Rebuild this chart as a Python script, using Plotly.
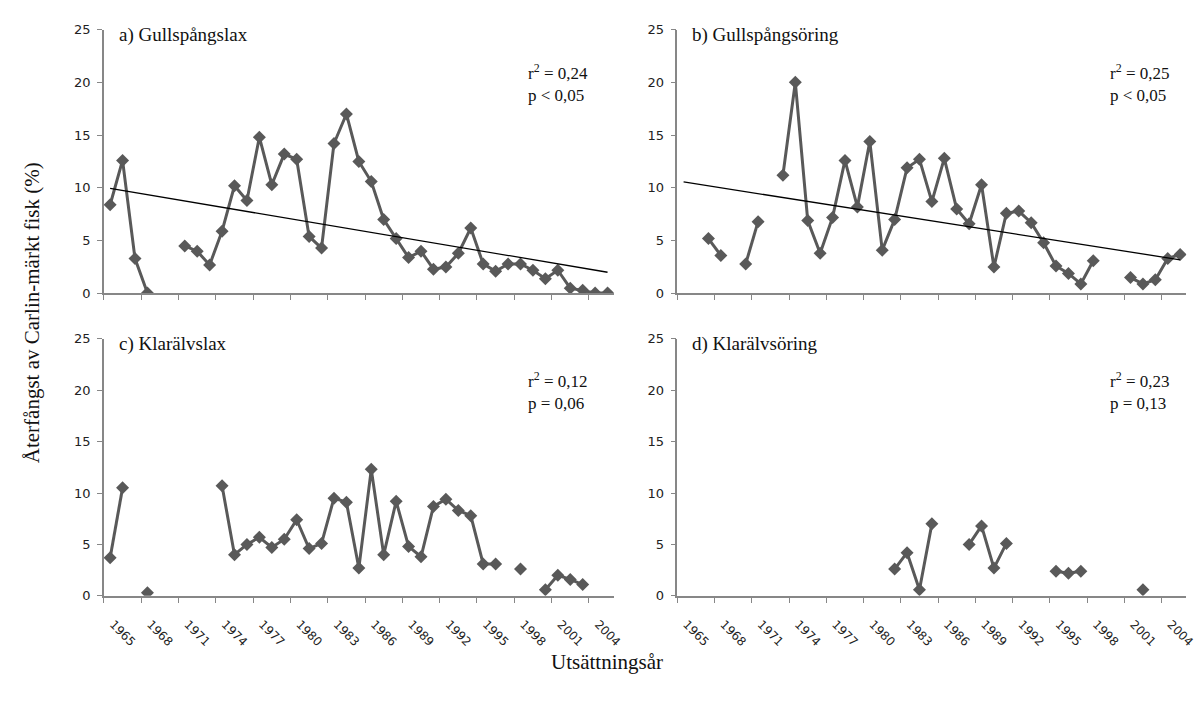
import numpy as np
import plotly.graph_objects as go

years = list(range(1965, 2006))
N = None

# a) Gullspångslax
gull_lax = [8.4, 12.6, 3.3, 0.05, N, N, 4.5, 4.0, 2.7, 5.9, 10.2, 8.8, 14.8, 10.3, 13.2, 12.7,
            5.4, 4.3, 14.2, 17.0, 12.5, 10.6, 7.0, 5.2, 3.4, 4.0, 2.3, 2.5, 3.8, 6.2, 2.8,
            2.1, 2.8, 2.8, 2.2, 1.4, 2.2, 0.5, 0.3, 0.05, 0.05]
# b) Gullspångsöring
gull_oring = [N, N, 5.2, 3.6, N, 2.8, 6.8, N, 11.2, 20.0, 6.9, 3.8, 7.2, 12.6, 8.2, 14.4,
              4.1, 7.0, 11.9, 12.7, 8.7, 12.8, 8.0, 6.6, 10.3, 2.5, 7.6, 7.8, 6.7, 4.8, 2.6,
              1.9, 0.9, 3.1, N, N, 1.5, 0.9, 1.3, 3.3, 3.7]
# c) Klarälvslax
klar_lax = [3.7, 10.5, N, 0.3, N, N, N, N, N, 10.7, 4.0, 5.0, 5.7, 4.7, 5.5, 7.4,
            4.6, 5.1, 9.5, 9.1, 2.7, 12.3, 4.0, 9.2, 4.8, 3.8, 8.7, 9.4, 8.3, 7.8, 3.1,
            3.1, N, 2.6, N, 0.6, 2.0, 1.6, 1.1, N, N]
# d) Klarälvsöring
klar_oring = [N, N, N, N, N, N, N, N, N, N, N, N, N, N, N, N,
              N, 2.6, 4.2, 0.6, 7.0, N, N, 5.0, 6.8, 2.7, 5.1, N, N, N, 2.4,
              2.2, 2.4, N, N, N, N, 0.6, N, N, N]

titles = ["a) Gullspångslax", "b) Gullspångsöring", "c) Klarälvslax", "d) Klarälvsöring"]
stats = [("0,24", "< 0,05"), ("0,25", "< 0,05"), ("0,12", "= 0,06"), ("0,23", "= 0,13")]
show_trend = [True, True, False, False]
series = [gull_lax, gull_oring, klar_lax, klar_oring]

tick_years = list(range(1965, 2005, 3))
tick_text = [str(y) for y in tick_years]
boundary_ticks = [y + 0.5 for y in range(1964, 2005, 3)]
y_ticks = [0, 5, 10, 15, 20, 25]

GREY = "#595959"
AXIS = "#878787"
SERIF = "Liberation Serif, Times New Roman, serif"
SANS = "DejaVu Sans, Verdana, sans-serif"

W, H = 1203, 702
xdoms = [[104.7 / W, 618.4 / W], [682.5 / W, 1195.3 / W]]
ydoms = [[1 - 292.7 / H, 1 - 23 / H], [1 - 601.7 / H, 1 - 339 / H]]

fig = go.Figure()
stat_x = [0.828, 0.847, 0.828, 0.847]

for i, vals in enumerate(series):
    row, col = divmod(i, 2)
    n = i + 1
    xa = "x" if n == 1 else f"x{n}"
    ya = "y" if n == 1 else f"y{n}"
    fig.add_trace(go.Scatter(
        x=years, y=vals, xaxis=xa, yaxis=ya, mode="lines+markers",
        line=dict(color=GREY, width=3), connectgaps=False,
        marker=dict(symbol="diamond", size=10, color=GREY),
        showlegend=False, hoverinfo="x+y"))
    if show_trend[i]:
        xs = np.array([y for y, v in zip(years, vals) if v is not None], dtype=float)
        ys = np.array([v for v in vals if v is not None], dtype=float)
        slope, icept = np.polyfit(xs, ys, 1)
        tx = np.array([years[0], years[-1]], dtype=float)
        fig.add_trace(go.Scatter(
            x=tx, y=slope * tx + icept, xaxis=xa, yaxis=ya, mode="lines",
            line=dict(color="black", width=1.3), showlegend=False, hoverinfo="skip"))

    key_x = "xaxis" if n == 1 else f"xaxis{n}"
    key_y = "yaxis" if n == 1 else f"yaxis{n}"
    fig.layout[key_x] = dict(
        domain=xdoms[col], anchor=ya, range=[1964.5, 2005.5],
        tickmode="array", tickvals=tick_years, ticktext=tick_text,
        showticklabels=(row == 1), tickangle=45, ticks="",
        ticklabelstandoff=15, ticklabelshift=3,
        tickfont=dict(family=SANS, size=12, color="#222"),
        showline=True, linecolor=AXIS, linewidth=1.5, showgrid=False, zeroline=False,
        minor=dict(tickmode="array", tickvals=boundary_ticks, ticks="outside",
                   ticklen=5, tickcolor=AXIS, tickwidth=1.2, showgrid=False))
    fig.layout[key_y] = dict(
        domain=ydoms[row], anchor=xa, range=[0, 25],
        tickmode="array", tickvals=y_ticks, ticks="outside", ticklen=5,
        tickcolor=AXIS, tickwidth=1.2, ticklabelstandoff=4,
        tickfont=dict(family=SANS, size=13, color="#222"),
        showline=True, linecolor=AXIS, linewidth=1.5, showgrid=False, zeroline=False)

    fig.add_annotation(text=titles[i], xref=f"{xa} domain", yref=f"{ya} domain",
                       x=0.025, y=1.03, xanchor="left", yanchor="top", showarrow=False,
                       font=dict(family=SERIF, size=19, color="#111"))
    r2, p = stats[i]
    fig.add_annotation(text=f"r<sup>2</sup> = {r2}",
                       xref=f"{xa} domain", yref=f"{ya} domain",
                       x=stat_x[i], y=0.84, xanchor="left", yanchor="middle",
                       showarrow=False, font=dict(family=SERIF, size=17, color="#111"))
    fig.add_annotation(text=f"p {p}",
                       xref=f"{xa} domain", yref=f"{ya} domain",
                       x=stat_x[i], y=0.75, xanchor="left", yanchor="middle",
                       showarrow=False, font=dict(family=SERIF, size=17, color="#111"))

fig.add_annotation(text="Återfångst av Carlin-märkt fisk (%)", xref="paper", yref="paper",
                   x=18 / W, y=1 - 312 / H, textangle=-90, showarrow=False,
                   font=dict(family=SERIF, size=21, color="#111"))
fig.add_annotation(text="Utsättningsår", xref="paper", yref="paper",
                   x=612 / W, y=1 - 684 / H, showarrow=False,
                   font=dict(family=SERIF, size=21, color="#111"))

fig.update_layout(width=W, height=H, margin=dict(l=0, r=0, t=0, b=0),
                  paper_bgcolor="white", plot_bgcolor="white")
fig.write_html("out.html", config={"displayModeBar": False},
               post_script="document.body.style.margin='0';")
